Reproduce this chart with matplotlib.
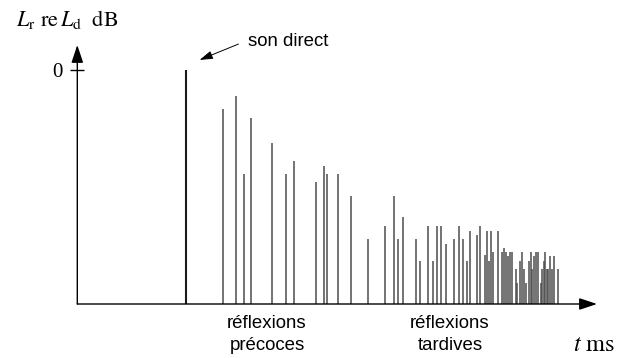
import matplotlib
matplotlib.use("Agg")
import matplotlib.pyplot as plt

plt.rcParams['mathtext.fontset'] = 'stix'

# instants des réflexions (ms) et niveaux relatifs (dB)
direct_t = 43.4
direct_L = 0.0

refl_t = [58.2, 63.4, 66.7, 69.4, 78.0, 83.4, 86.7, 95.4, 98.8, 99.8,
          104.1, 109.3, 116.2, 123.1, 126.6, 128.3, 130.1, 135.3, 137.0, 140.4,
          142.2, 143.9, 145.6, 147.4, 150.8, 152.6, 154.3, 156.0, 157.0, 159.9,
          161.2, 163.0, 163.8, 164.7, 165.5, 166.4, 168.2, 169.9, 170.8, 171.6,
          172.4, 173.1, 174.0, 175.5, 176.0, 177.2, 177.9, 178.6, 179.6, 180.6,
          181.4, 182.0, 182.8, 183.4, 184.2, 185.6, 186.0, 186.7, 187.2, 187.8,
          188.4, 189.1, 189.8, 190.7, 192.2]
refl_L = [-10.1, -6.7, -26.8, -12.3, -18.9, -26.8, -23.4, -28.9, -24.6, -26.8,
          -26.8, -32.4, -43.5, -40.1, -32.3, -43.5, -37.9, -43.5, -49.0, -40.1,
          -49.0, -40.1, -40.1, -44.6, -43.5, -40.1, -43.5, -49.0, -41.3, -42.4,
          -40.1, -47.5, -41.3, -49.0, -41.3, -46.8, -41.3, -46.8, -45.7, -46.8,
          -47.9, -46.8, -46.8, -51.2, -54.6, -49.0, -46.8, -51.2, -54.6, -49.0,
          -46.8, -51.2, -47.9, -46.8, -46.8, -54.6, -51.2, -49.0, -46.8, -51.2,
          -51.2, -47.9, -51.2, -47.9, -51.2]

L_floor = -60.1

W, H = 629, 358
fig = plt.figure(figsize=(W / 100, H / 100), dpi=100)
ax = fig.add_axes([77.3 / W, 1 - 304 / H, 519.7 / W, 259 / H])
ax.set_xlim(0, 207.9)
ax.set_ylim(L_floor, 6.3)
for s in ax.spines.values():
    s.set_visible(False)

# axes avec flèches
arr = dict(arrowstyle='-|>,head_length=1.08,head_width=0.36', mutation_scale=10,
           color='black', lw=1.0, shrinkA=0, shrinkB=0)
ax.annotate('', xy=(0, 1), xytext=(0, 0), xycoords='axes fraction', arrowprops=arr)
ax.annotate('', xy=(1, 0), xytext=(0, 0), xycoords='axes fraction', arrowprops=arr)

# graduation 0
ax.set_xticks([])
ax.set_yticks([0])
ax.set_yticklabels(['0'], family='Liberation Serif', fontsize=15)
ax.tick_params(axis='y', direction='inout', length=9.4, width=1.0, pad=6)

# son direct et réflexions
ax.vlines([direct_t], L_floor, [direct_L], color='#1a1a1a', lw=1.5)
ax.vlines(refl_t, L_floor, refl_L, color='#4d4d4d', lw=1.1)

# textes
fig.text(16 / W, 1 - 26 / H, r'$L_{\rm r}\ {\rm re}\,L_{\rm d}\ \ {\rm dB}$',
         fontsize=16, va='baseline', ha='left')
fig.text(248 / W, 1 - 41 / H, 'son direct', family='Liberation Sans',
         fontsize=13.4, va='center', ha='left')
fig.add_artist(matplotlib.patches.FancyArrowPatch(
    (241 / W, 1 - 43 / H), (197 / W, 1 - 61 / H), transform=fig.transFigure,
    arrowstyle='-|>,head_length=0.8,head_width=0.25', mutation_scale=10,
    color='black', lw=0.7))

for x, txt in [(267, ['réflexions', 'précoces']), (450, ['réflexions', 'tardives'])]:
    fig.text(x / W, 1 - 324 / H, txt[0], family='Liberation Sans',
             fontsize=13.4, va='center', ha='center')
    fig.text(x / W, 1 - 346 / H, txt[1], family='Liberation Sans',
             fontsize=13.4, va='center', ha='center')

fig.text(573 / W, 1 - 351 / H, r'$t\ {\rm ms}$', fontsize=17.5,
         va='baseline', ha='left')

fig.savefig('out.png', dpi=100)
